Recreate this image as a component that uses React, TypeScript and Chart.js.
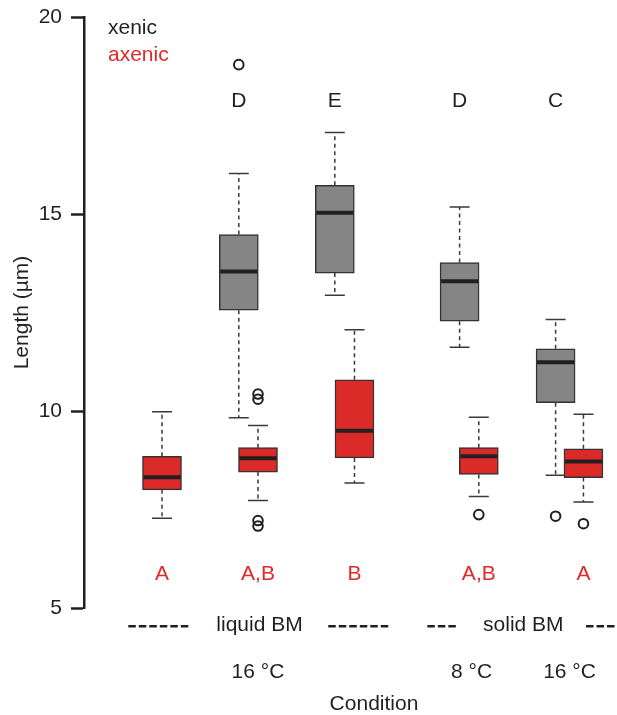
import React, { useEffect, useRef } from "react";
import { Chart, registerables } from "chart.js";

Chart.register(...registerables);

// ---- data ----
const xenicPos = [1.8, 2.8, 4.1, 5.1];
const xenicLow = [9.83, 12.94, 11.62, 8.37];
const xenicQ1 = [12.56, 13.5, 12.28, 10.21];
const xenicMedian = [13.54, 15.03, 13.29, 11.24];
const xenicQ3 = [14.48, 15.73, 13.77, 11.58];
const xenicHigh = [16.03, 17.07, 15.18, 12.32];
const xenicOutliers = [{ x: 1.8, y: 18.79 }, { x: 5.1, y: 7.33 }];
const xenicLetters = ["D", "E", "D", "C"];

const axenicPos = [1.0, 2.0, 3.005, 4.3, 5.39];
const axenicLow = [7.28, 7.73, 8.17, 7.83, 7.69];
const axenicQ1 = [8.0, 8.45, 8.81, 8.39, 8.31];
const axenicMedian = [8.32, 8.8, 9.5, 8.85, 8.72];
const axenicQ3 = [8.85, 9.07, 10.79, 9.07, 9.04];
const axenicHigh = [9.98, 9.63, 12.06, 9.84, 9.92];
const axenicOutliers = [
  { x: 2.0, y: 10.43 },
  { x: 2.0, y: 10.3 },
  { x: 2.0, y: 7.22 },
  { x: 2.0, y: 7.08 },
  { x: 4.3, y: 7.37 },
  { x: 5.39, y: 7.14 },
];
const axenicLetters = ["A", "A,B", "B", "A,B", "A"];

const yTicks = [5, 10, 15, 20];
const mediumLabels = [
  { x: 2.016, text: "liquid BM" },
  { x: 4.764, text: "solid BM" },
];
const mediumDashes = [
  { x: 0.649, count: 6 },
  { x: 2.732, count: 6 },
  { x: 3.764, count: 3 },
  { x: 5.417, count: 3 },
];
const tempLabels = [
  { x: 2.0, text: "16 °C" },
  { x: 4.225, text: "8 °C" },
  { x: 5.245, text: "16 °C" },
];
const xTitle = { x: 3.208, text: "Condition" };

const FONT = "'Liberation Sans', Arial, sans-serif";
const DARK = "#231f20";
const RED_TEXT = "#e0292a";
const GRAY_FILL = "#858585";
const RED_FILL = "#dc2a28";

const boxPlugin = {
  id: "boxParts",
  beforeDatasetsDraw(chart: any) {
    const { ctx } = chart;
    const xs = chart.scales.x;
    const ys = chart.scales.y;
    const whisk = (pos: number[], lo: number[], q1: number[], q3: number[], hi: number[]) => {
      pos.forEach((p, i) => {
        const px = xs.getPixelForValue(p);
        const capHalf = 10;
        ctx.save();
        ctx.strokeStyle = "#3a3a3a";
        ctx.lineWidth = 1.5;
        ctx.setLineDash([4, 3.5]);
        ctx.beginPath();
        ctx.moveTo(px, ys.getPixelForValue(q3[i]));
        ctx.lineTo(px, ys.getPixelForValue(hi[i]));
        ctx.moveTo(px, ys.getPixelForValue(q1[i]));
        ctx.lineTo(px, ys.getPixelForValue(lo[i]));
        ctx.stroke();
        ctx.setLineDash([]);
        ctx.beginPath();
        ctx.moveTo(px - capHalf, ys.getPixelForValue(hi[i]));
        ctx.lineTo(px + capHalf, ys.getPixelForValue(hi[i]));
        ctx.moveTo(px - capHalf, ys.getPixelForValue(lo[i]));
        ctx.lineTo(px + capHalf, ys.getPixelForValue(lo[i]));
        ctx.stroke();
        ctx.restore();
      });
    };
    whisk(xenicPos, xenicLow, xenicQ1, xenicQ3, xenicHigh);
    whisk(axenicPos, axenicLow, axenicQ1, axenicQ3, axenicHigh);
  },
  afterDatasetsDraw(chart: any) {
    const { ctx } = chart;
    const xs = chart.scales.x;
    const ys = chart.scales.y;
    const med = (pos: number[], m: number[]) => {
      pos.forEach((p, i) => {
        const px = xs.getPixelForValue(p);
        const py = ys.getPixelForValue(m[i]);
        ctx.save();
        ctx.strokeStyle = DARK;
        ctx.lineWidth = 4;
        ctx.beginPath();
        ctx.moveTo(px - 18.5, py);
        ctx.lineTo(px + 18.5, py);
        ctx.stroke();
        ctx.restore();
      });
    };
    med(xenicPos, xenicMedian);
    med(axenicPos, axenicMedian);

    ctx.save();
    ctx.font = `21px ${FONT}`;
    ctx.textBaseline = "middle";
    ctx.textAlign = "center";
    ctx.fillStyle = DARK;
    xenicPos.forEach((p, i) => {
      ctx.fillText(xenicLetters[i], xs.getPixelForValue(p), ys.getPixelForValue(17.87));
    });
    ctx.fillStyle = RED_TEXT;
    axenicPos.forEach((p, i) => {
      ctx.fillText(axenicLetters[i], xs.getPixelForValue(p), ys.getPixelForValue(5.85));
    });
    ctx.textAlign = "left";
    ctx.fillStyle = DARK;
    ctx.fillText("xenic", xs.getPixelForValue(0.4375), ys.getPixelForValue(19.72));
    ctx.fillStyle = RED_TEXT;
    ctx.fillText("axenic", xs.getPixelForValue(0.4375), ys.getPixelForValue(19.02));
    ctx.textAlign = "center";
    ctx.fillStyle = DARK;
    const rowY = ys.getPixelForValue(4.56);
    mediumLabels.forEach((l) => {
      ctx.fillText(l.text, xs.getPixelForValue(l.x), rowY);
    });
    tempLabels.forEach((l) => {
      ctx.fillText(l.text, xs.getPixelForValue(l.x), ys.getPixelForValue(3.376));
    });
    ctx.fillText(xTitle.text, xs.getPixelForValue(xTitle.x), ys.getPixelForValue(2.57));
    // dashed separators of the medium labels
    ctx.strokeStyle = DARK;
    ctx.lineWidth = 2.5;
    ctx.lineCap = "butt";
    const dash = 7.5;
    const gap = 3;
    ctx.setLineDash([dash, gap]);
    mediumDashes.forEach((d) => {
      const x0 = xs.getPixelForValue(d.x);
      const len = d.count * dash + (d.count - 1) * gap;
      ctx.beginPath();
      ctx.moveTo(x0, rowY + 1);
      ctx.lineTo(x0 + len, rowY + 1);
      ctx.stroke();
    });
    ctx.restore();
  },
};

export default function App() {
  const ref = useRef<HTMLCanvasElement | null>(null);
  useEffect(() => {
    if (!ref.current) return;
    const chart = new Chart(ref.current, {
      type: "bar",
      data: {
        datasets: [
          {
            label: "xenic",
            data: xenicPos.map((p, i) => ({ x: p, y: [xenicQ1[i], xenicQ3[i]] })) as any,
            backgroundColor: GRAY_FILL,
            borderColor: "#333333",
            borderWidth: 1.5,
            borderSkipped: false,
            barThickness: 39,
            grouped: false,
          } as any,
          {
            label: "axenic",
            data: axenicPos.map((p, i) => ({ x: p, y: [axenicQ1[i], axenicQ3[i]] })) as any,
            backgroundColor: RED_FILL,
            borderColor: "#333333",
            borderWidth: 1.5,
            borderSkipped: false,
            barThickness: 39,
            grouped: false,
          } as any,
          {
            type: "scatter",
            label: "outliers",
            data: [...xenicOutliers, ...axenicOutliers],
            pointStyle: "circle",
            radius: 4.8,
            borderWidth: 2,
            borderColor: DARK,
            backgroundColor: "rgba(0,0,0,0)",
          } as any,
        ],
      },
      options: {
        animation: false,
        responsive: false,
        maintainAspectRatio: false,
        layout: { autoPadding: false, padding: { left: 0, top: 17, right: 0, bottom: 0 } },
        plugins: { legend: { display: false }, tooltip: { enabled: false } },
        scales: {
          x: {
            type: "linear",
            offset: false,
            min: 0.1875,
            max: 5.7396,
            grid: { display: false },
            border: { display: false },
            ticks: { display: false },
            afterFit(scale: any) {
              scale.height = 107;
              scale.paddingLeft = 0;
              scale.paddingRight = 0;
            },
          },
          y: {
            type: "linear",
            min: 5,
            max: 20,
            afterBuildTicks(scale: any) {
              scale.ticks = yTicks.map((v) => ({ value: v }));
            },
            grid: {
              drawOnChartArea: false,
              drawTicks: true,
              tickLength: 13,
              tickWidth: 2.5,
              tickColor: DARK,
            },
            border: { display: true, width: 2.5, color: DARK },
            ticks: {
              color: DARK,
              padding: 9,
              font: { family: FONT, size: 21 },
            },
            title: {
              display: true,
              text: "Length (µm)",
              color: DARK,
              font: { family: FONT, size: 21 },
              padding: { top: 10, bottom: 0 },
            },
            afterFit(scale: any) {
              scale.width = 84;
              scale.paddingTop = 0;
              scale.paddingBottom = 0;
            },
          },
        },
      },
      plugins: [boxPlugin],
    });
    return () => chart.destroy();
  }, []);
  return (
    <div style={{ position: "fixed", left: 0, top: 0, width: 617, height: 715, background: "#fff" }}>
      <canvas ref={ref} width={617} height={715} style={{ width: 617, height: 715 }} />
    </div>
  );
}
